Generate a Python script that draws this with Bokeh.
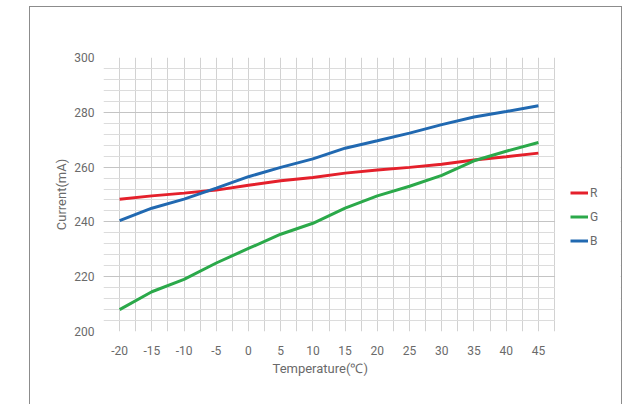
import numpy as np
from bokeh.plotting import figure
from bokeh.models import FixedTicker, Legend, LegendItem, InlineStyleSheet, Title, BoxAnnotation
from bokeh.embed import file_html
from bokeh.resources import INLINE

temps = [-20, -15, -10, -5, 0, 5, 10, 15, 20, 25, 30, 35, 40, 45]
red_r = [248.3, 249.5, 250.5, 251.6, 253.4, 255.0, 256.2, 257.8, 258.9, 259.9, 261.0, 262.6, 263.8, 265.1]
green_g = [208.0, 214.5, 219.0, 225.0, 230.3, 235.5, 239.5, 245.0, 249.5, 253.0, 257.0, 262.3, 265.8, 269.0]
blue_b = [240.5, 245.0, 248.3, 252.3, 256.5, 259.9, 263.0, 266.9, 269.6, 272.4, 275.5, 278.3, 280.3, 282.4]
series_names = ["R", "G", "B"]
series_colors = ["#e4202b", "#2ba94a", "#2169b1"]
x_ticks = [-20, -15, -10, -5, 0, 5, 10, 15, 20, 25, 30, 35, 40, 45]
y_ticks = [200, 220, 240, 260, 280, 300]

FONT = "Roboto"
TXT = "#6a6a6a"
X_LO, X_HI = -22.5, 47.5          # extent of the gridded plot area
X_VIEW_HI = 57.74                  # frame extends right to hold the legend

p = figure(width=627, height=397, output_backend="svg", toolbar_location=None,
           x_range=(X_LO, X_VIEW_HI), y_range=(200, 300),
           min_border_left=103, min_border_top=57, min_border_right=7, min_border_bottom=66)
p.background_fill_color = "white"
p.border_fill_color = "white"
p.outline_line_color = None

# grid
p.xgrid.ticker = FixedTicker(ticks=list(np.arange(X_LO, X_HI + 0.1, 2.5)))
p.xgrid.grid_line_color = "#d2d2d2"
p.xgrid.grid_line_width = 1
p.ygrid.ticker = FixedTicker(ticks=y_ticks, minor_ticks=list(np.arange(200, 301, 4)))
p.ygrid.grid_line_color = "#c4c4c4"
p.ygrid.minor_grid_line_color = "#dcdcdc"

# white cover for the legend area to the right of the grid
cover = BoxAnnotation(left=X_HI + 0.08, fill_color="white", fill_alpha=1,
                      line_color=None, level="underlay")
p.add_layout(cover)

# axes
for ax in (p.xaxis[0], p.yaxis[0]):
    ax.axis_line_color = None
    ax.major_tick_line_color = None
    ax.minor_tick_line_color = None
    ax.major_label_text_font = FONT
    ax.major_label_text_font_size = "12px"
    ax.major_label_text_color = TXT
    ax.axis_label_text_font = FONT
    ax.axis_label_text_font_size = "13px"
    ax.axis_label_text_font_style = "normal"
    ax.axis_label_text_color = TXT
p.xaxis.ticker = FixedTicker(ticks=x_ticks)
p.xaxis.major_label_overrides = {t: str(t) for t in x_ticks}
p.yaxis.ticker = FixedTicker(ticks=y_ticks)
p.yaxis.axis_label = "Current(mA)"
p.xaxis.major_label_standoff = 8
p.yaxis.major_label_standoff = 3
p.yaxis.axis_label_standoff = 2

xtitle = Title(text="Temperature(℃)", align="left", offset=169, standoff=2,
               text_font=FONT, text_font_size="13px", text_font_style="normal",
               text_color=TXT)
p.add_layout(xtitle, "below")

items = []
for name, vals, col in zip(series_names, [red_r, green_g, blue_b], series_colors):
    r = p.line(temps, vals, line_color=col, line_width=3)
    items.append(LegendItem(label=name, renderers=[r]))

legend = Legend(items=items, location=(467, 80), padding=0, margin=0, spacing=3,
                glyph_width=18, glyph_height=21, label_height=21, label_standoff=2,
                border_line_color=None, background_fill_alpha=0,
                label_text_font=FONT, label_text_font_size="12px", label_text_color=TXT)
p.add_layout(legend, "center")

frame_css = InlineStyleSheet(css=""":host::after {
  content: ''; position: absolute; left: 29px; top: 6px; width: 593px; height: 398px;
  border: 1.5px solid #8c8c8c; border-bottom: none; pointer-events: none; box-sizing: border-box;
}""")
p.stylesheets = [frame_css]

open("out.html", "w").write(file_html(p, INLINE))
